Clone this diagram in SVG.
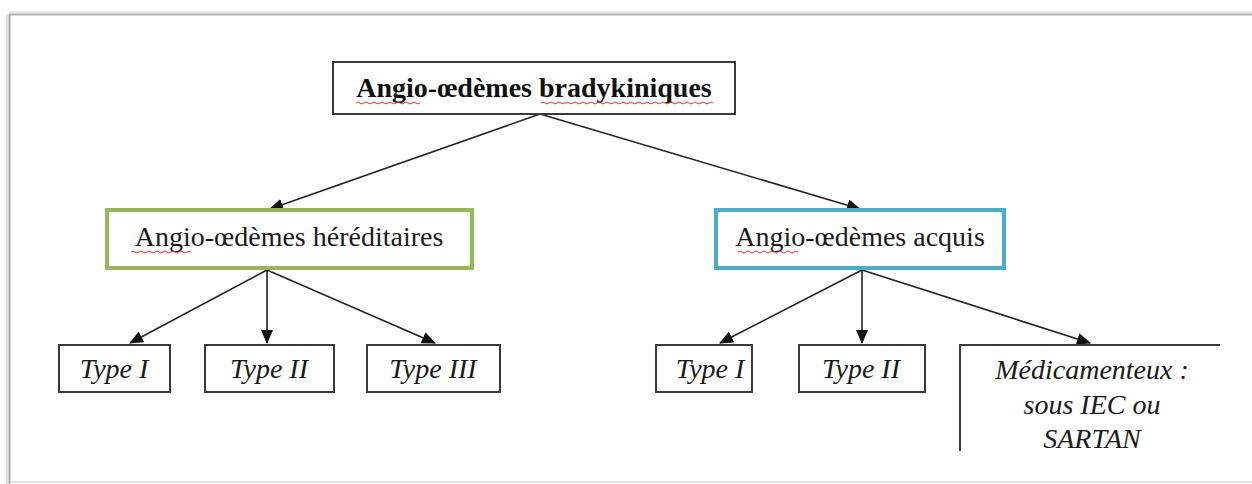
<svg xmlns="http://www.w3.org/2000/svg" width="1252" height="484" viewBox="0 0 1252 484">
<style>
.bold{font-family:"Liberation Serif","Times New Roman",serif;font-weight:bold;font-size:28px;fill:#111;text-anchor:middle}
.reg{font-family:"Liberation Serif","Times New Roman",serif;font-size:28px;fill:#1a1a1a;text-anchor:middle}
.it{font-family:"Liberation Serif","Times New Roman",serif;font-style:italic;font-size:28px;fill:#1a1a1a;text-anchor:middle}
.box{fill:#fff;stroke:#3a3a3a;stroke-width:2}
.conn{stroke:#222;stroke-width:1.6;fill:none}
.wavy{stroke:#e03030;stroke-width:1;fill:none}
</style>
<defs>
<marker id="ah" markerWidth="14" markerHeight="12" refX="13" refY="6" orient="auto" markerUnits="userSpaceOnUse">
<path d="M0,0 L14,6 L0,12 Z" fill="#111"/>
</marker>
</defs>
<rect width="1252" height="484" fill="#fff"/>
<g id="frame">
<line x1="9" y1="14.5" x2="1252" y2="14.5" stroke="#b0b0b0" stroke-width="2"/>
<line x1="9" y1="12" x2="1252" y2="12" stroke="#e4e4e4" stroke-width="2"/>
<line x1="9.5" y1="14" x2="9.5" y2="484" stroke="#a8a8a8" stroke-width="2"/>
<line x1="7" y1="14" x2="7" y2="484" stroke="#e0e0e0" stroke-width="2"/>
<line x1="10" y1="482" x2="1252" y2="482" stroke="#e2e2e2" stroke-width="2"/>
</g>
<g id="connectors">
<line class="conn" x1="540" y1="114" x2="270" y2="209" marker-end="url(#ah)"/>
<line class="conn" x1="540" y1="114" x2="860" y2="209" marker-end="url(#ah)"/>
<line class="conn" x1="267" y1="270" x2="130" y2="343" marker-end="url(#ah)"/>
<line class="conn" x1="267" y1="270" x2="267" y2="343" marker-end="url(#ah)"/>
<line class="conn" x1="267" y1="270" x2="435" y2="343" marker-end="url(#ah)"/>
<line class="conn" x1="862" y1="270" x2="720" y2="343" marker-end="url(#ah)"/>
<line class="conn" x1="862" y1="270" x2="862" y2="343" marker-end="url(#ah)"/>
<line class="conn" x1="862" y1="270" x2="1090" y2="343" marker-end="url(#ah)"/>
</g>
<g id="root">
<rect class="box" x="333" y="62" width="402" height="52"/>
<text class="bold" x="534" y="97">Angio-œdèmes bradykiniques</text>
<path class="wavy" d="M356,103 q2,-2 4,0 t4,0 t4,0 t4,0 t4,0 t4,0 t4,0 t4,0 t4,0 t4,0 t4,0 t4,0 t4,0 t4,0 t4,0 t4,0"/>
<path class="wavy" d="M541,103 q2,-2 4,0 t4,0 t4,0 t4,0 t4,0 t4,0 t4,0 t4,0 t4,0 t4,0 t4,0 t4,0 t4,0 t4,0 t4,0 t4,0 t4,0 t4,0 t4,0 t4,0 t4,0 t4,0 t4,0 t4,0 t4,0 t4,0 t4,0 t4,0 t4,0 t4,0 t4,0 t4,0 t4,0 t4,0 t4,0 t4,0 t4,0 t4,0 t4,0 t4,0 t4,0 t4,0 t4,0"/>
</g>
<g id="hereditaires">
<rect x="107" y="210" width="365" height="58" fill="#fff" stroke="#94b85a" stroke-width="4"/>
<text class="reg" x="289" y="246">Angio-œdèmes héréditaires</text>
<path class="wavy" d="M131,252 q2,-2 4,0 t4,0 t4,0 t4,0 t4,0 t4,0 t4,0 t4,0 t4,0 t4,0 t4,0 t4,0 t4,0 t4,0 t4,0"/>
</g>
<g id="acquis">
<rect x="716" y="210" width="288" height="58" fill="#fff" stroke="#4aacc6" stroke-width="4"/>
<text class="reg" x="860" y="246">Angio-œdèmes acquis</text>
<path class="wavy" d="M738,252 q2,-2 4,0 t4,0 t4,0 t4,0 t4,0 t4,0 t4,0 t4,0 t4,0 t4,0 t4,0 t4,0 t4,0 t4,0 t4,0"/>
</g>
<g id="h-type1">
<rect class="box" x="59" y="345" width="111" height="47"/>
<text class="it" x="114" y="378">Type I</text>
</g>
<g id="h-type2">
<rect class="box" x="205" y="345" width="129" height="47"/>
<text class="it" x="269" y="378">Type II</text>
</g>
<g id="h-type3">
<rect class="box" x="367" y="345" width="133" height="47"/>
<text class="it" x="433" y="378">Type III</text>
</g>
<g id="a-type1">
<rect class="box" x="656" y="345" width="96" height="47"/>
<text class="it" x="710" y="378">Type I</text>
</g>
<g id="a-type2">
<rect class="box" x="799" y="345" width="126" height="47"/>
<text class="it" x="861" y="378">Type II</text>
</g>
<g id="medicamenteux">
<path d="M960,451 L960,345 L1220,345" fill="none" stroke="#3a3a3a" stroke-width="2"/>
<text class="it" x="1092" y="379">Médicamenteux :</text>
<text class="it" x="1092" y="414">sous IEC ou</text>
<text class="it" x="1092" y="448">SARTAN</text>
</g>
</svg>
